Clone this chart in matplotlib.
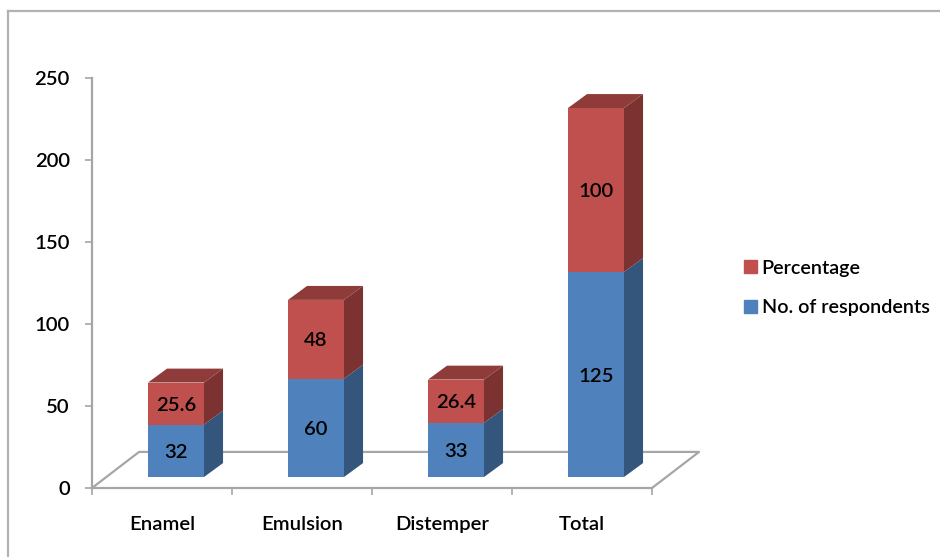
import numpy as np
from matplotlib import pyplot as plt
from matplotlib.lines import Line2D
from matplotlib.patches import Patch, Polygon

plt.rcParams.update({
    "font.family": ["Lato", "DejaVu Sans"],
    "font.size": 14.6,
    "font.weight": 600,
})

categories = ["Enamel", "Emulsion", "Distemper", "Total"]
respondents = [32, 60, 33, 125]
percentage = [25.6, 48, 26.4, 100]
percentage_labels = ["25.6", "48", "26.4", "100"]
y_ticks = [0, 50, 100, 150, 200, 250]

BLUE, BLUE_SIDE = "#4f81bd", "#34557c"
RED, RED_SIDE, RED_TOP = "#c0504d", "#7c3230", "#8f3b39"
GREY = "#a6a6a6"

# pseudo 3D offsets in data units
BAR_W = 0.4
BAR_DX, BAR_DY = 0.136, 8.5
FLOOR_DX, FLOOR_DY = 0.336, 22.0
BASE = 6.7
LABEL_DROP = 1.0

W, H = 940, 557
fig = plt.figure(figsize=(W / 100, H / 100), dpi=100)
ax = fig.add_axes([92 / W, 1 - 488 / H, 560 / W, 410 / H])
ax.set_xlim(0, 4)
ax.set_ylim(0, 250)

# floor
ax.plot([0, FLOOR_DX, 4 + FLOOR_DX, 4], [0, FLOOR_DY, FLOOR_DY, 0],
        c=GREY, lw=1.6, clip_on=False, zorder=1)


def side(x, y0, h, color):
    """Right hand face of a bar segment."""
    r = x + BAR_W / 2
    pts = [(r, y0), (r + BAR_DX, y0 + BAR_DY),
           (r + BAR_DX, y0 + h + BAR_DY), (r, y0 + h)]
    ax.add_patch(Polygon(pts, fc=color, ec="none", clip_on=False, zorder=2))


def top(x, y, color):
    l, r = x - BAR_W / 2, x + BAR_W / 2
    pts = [(l, y), (l + BAR_DX, y + BAR_DY), (r + BAR_DX, y + BAR_DY), (r, y)]
    ax.add_patch(Polygon(pts, fc=color, ec="none", clip_on=False, zorder=2))


xs = np.arange(len(categories)) + 0.6
blue = np.array(respondents, dtype=float)
red = np.array(percentage, dtype=float)

ax.bar(xs, blue, BAR_W, bottom=BASE, color=BLUE, clip_on=False, zorder=3)
ax.bar(xs, red, BAR_W, bottom=BASE + blue, color=RED, clip_on=False, zorder=3)

for i, x in enumerate(xs):
    side(x, BASE, blue[i], BLUE_SIDE)
    side(x, BASE + blue[i], red[i], RED_SIDE)
    top(x, BASE + blue[i] + red[i], RED_TOP)
    ax.text(x, BASE + blue[i] / 2 - LABEL_DROP, str(respondents[i]),
            ha="center", va="center", color="black", zorder=4)
    ax.text(x, BASE + blue[i] + red[i] / 2 - LABEL_DROP, percentage_labels[i],
            ha="center", va="center", color="black", zorder=4)

# axes
for s in ["top", "right"]:
    ax.spines[s].set_visible(False)
for s in ["left", "bottom"]:
    ax.spines[s].set_color(GREY)
    ax.spines[s].set_linewidth(1.6)
ax.set_yticks(y_ticks)
ax.set_xticks(np.arange(5))
ax.set_xticklabels([])
ax.set_xticks(np.arange(len(categories)) + 0.5, categories, minor=True)
ax.tick_params(axis="y", length=5, width=1.2, color=GREY, pad=11)
ax.tick_params(axis="x", which="major", length=5, width=1.2, color=GREY)
ax.tick_params(axis="x", which="minor", length=0, pad=20)
ax.patch.set_visible(False)

# outer chart border, top and left only
border = dict(color="#b2b2b2", lw=1.6, transform=fig.transFigure)
fig.add_artist(Line2D([8 / W, 8 / W], [0, 1 - 11 / H], **border))
fig.add_artist(Line2D([8 / W, 1], [1 - 11 / H, 1 - 11 / H], **border))

handles = [Patch(color=RED, label="Percentage"),
           Patch(color=BLUE, label="No. of respondents")]
fig.legend(handles=handles, loc="center left", bbox_to_anchor=(744 / W, 1 - 288 / H),
           frameon=False, handlelength=0.64, handleheight=0.64, handletextpad=0.25,
           labelspacing=1.15, borderpad=0, borderaxespad=0, fontsize=14.2)

fig.savefig("out.png", dpi=100)
